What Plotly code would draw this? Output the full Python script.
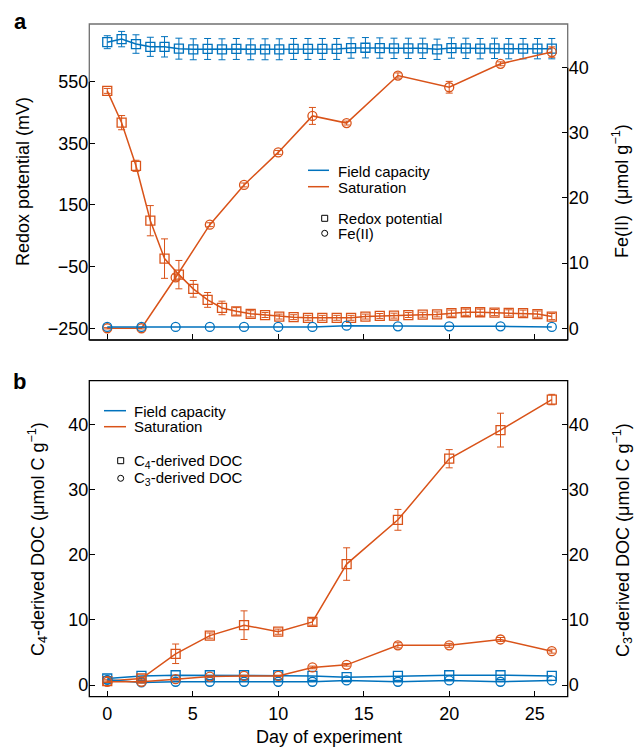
import plotly.graph_objects as go

# ---------------- data ----------------
redox_days = [0, 0.84, 1.68, 2.52, 3.35, 4.19, 5.03, 5.87, 6.71, 7.55, 8.39, 9.23,
              10.06, 10.9, 11.74, 12.58, 13.42, 14.26, 15.1, 15.94, 16.77, 17.61,
              18.45, 19.29, 20.13, 20.97, 21.81, 22.65, 23.48, 24.32, 25.16, 26.0]
redox_fc = [678, 688, 672, 663, 663, 657, 655, 656, 655, 656, 655, 655,
            655, 656, 656, 656, 656, 659, 660, 659, 658, 658, 658, 655,
            659, 658, 657, 658, 657, 657, 657, 657]
redox_fc_err = [21, 25, 30, 31, 33, 34, 34, 34, 34, 34, 34, 34,
                34, 34, 34, 34, 34, 33, 33, 33, 33, 33, 33, 33,
                33, 33, 33, 33, 33, 33, 33, 33]
redox_sat = [520, 417, 277, 99, -24, -76, -122, -158, -184, -195, -203, -207,
             -212, -214, -216, -216, -216, -216, -212, -210, -209, -207, -206, -205,
             -201, -198, -198, -199, -200, -201, -204, -212]
redox_sat_err = [8, 23, 18, 49, 64, 46, 27, 24, 22, 12, 10, 8,
                 8, 8, 8, 8, 8, 8, 8, 8, 8, 8, 8, 8,
                 10, 10, 10, 10, 10, 10, 10, 10]

fe_days = [0, 2, 4, 6, 8, 10, 12, 14, 17, 20, 23, 26]
fe_fc = [0.2, 0.2, 0.2, 0.2, 0.2, 0.2, 0.2, 0.4, 0.3, 0.3, 0.3, 0.2]
fe_sat = [0, 0, 7.8, 15.9, 22.0, 27.0, 32.6, 31.5, 38.8, 37.0, 40.6, 42.4]
fe_sat_err = [0.1, 0.1, 0.5, 0.3, 0.3, 0.3, 1.3, 0.3, 0.4, 0.9, 0.3, 0.8]

doc_days = [0, 2, 4, 6, 8, 10, 12, 14, 17, 20, 23, 26]
c4_fc = [1.0, 1.4, 1.5, 1.5, 1.5, 1.5, 1.4, 1.2, 1.4, 1.5, 1.5, 1.4]
c3_fc = [0.8, 0.4, 0.5, 0.5, 0.5, 0.5, 0.5, 0.7, 0.5, 0.7, 0.5, 0.7]
c4_sat = [0.6, 1.0, 4.8, 7.6, 9.2, 8.2, 9.7, 18.6, 25.4, 34.8, 39.2, 43.9]
c4_sat_err = [0.2, 0.2, 1.5, 0.4, 2.2, 0.4, 0.5, 2.5, 1.6, 1.4, 2.6, 0.8]
c3_sat = [0.5, 0.5, 0.9, 1.3, 1.4, 1.4, 2.7, 3.1, 6.1, 6.1, 7.0, 5.2]
c3_sat_err = [0.1, 0.1, 0.1, 0.1, 0.1, 0.1, 0.2, 0.2, 0.4, 0.3, 0.3, 0.3]

x_ticks = [0, 5, 10, 15, 20, 25]
redox_ticks = [-250, -50, 150, 350, 550]
redox_ticktext = ["\u2212250", "\u221250", "150", "350", "550"]
conc_ticks = [0, 10, 20, 30, 40]

BLUE = "#0072BD"
ORANGE = "#D95319"
FONT = "Liberation Sans, Arial, Helvetica, sans-serif"

W, H = 635, 748
def px(x):
    return x / W
def py(y):
    return 1 - y / H

fig = go.Figure()

def add(x, y, color, symbol, xa, ya, err=None, size=9):
    fig.add_trace(go.Scatter(
        x=x, y=y, xaxis=xa, yaxis=ya, mode="lines+markers",
        line=dict(color=color, width=1.5),
        marker=dict(symbol=symbol, size=size, color=color, line=dict(color=color, width=1.3)),
        error_y=(dict(type="data", array=err, color=color, thickness=1, width=3.5, visible=True)
                 if err is not None else None),
        showlegend=False, cliponaxis=False, hoverinfo="skip"))

# panel a
add(redox_days, redox_fc, BLUE, "square-open", "x", "y", redox_fc_err)
add(redox_days, redox_sat, ORANGE, "square-open", "x", "y", redox_sat_err)
add(fe_days, fe_sat, ORANGE, "circle-open", "x", "y2", fe_sat_err)
add(fe_days, fe_fc, BLUE, "circle-open", "x", "y2")
# panel b
add(doc_days, c4_fc, BLUE, "square-open", "x2", "y3")
add(doc_days, c3_fc, BLUE, "circle-open", "x2", "y4")
add(doc_days, c4_sat, ORANGE, "square-open", "x2", "y3", c4_sat_err)
add(doc_days, c3_sat, ORANGE, "circle-open", "x2", "y4", c3_sat_err)

xdom = [px(89.3), px(567.7)]
adom = [py(340), py(24)]
bdom = [py(696.7), py(380.7)]
xr = [-1.05, 26.93]

tickfont = dict(family=FONT, size=18, color="black")
common = dict(showgrid=False, zeroline=False, showline=False, ticks="inside",
              ticklen=6, tickwidth=1, tickcolor="black", tickfont=tickfont,
              automargin=False)

fig.update_layout(
    width=W, height=H, margin=dict(l=0, r=0, t=0, b=0),
    paper_bgcolor="white", plot_bgcolor="white", showlegend=False,
    font=dict(family=FONT, color="black"),
    xaxis=dict(domain=xdom, range=xr, anchor="y", tickvals=x_ticks,
               showticklabels=False, **common),
    yaxis=dict(domain=adom, range=[-288, 737], anchor="x", tickvals=redox_ticks,
               ticktext=redox_ticktext, **common),
    yaxis2=dict(range=[-1.8, 46.71], overlaying="y", side="right", anchor="x",
                tickvals=conc_ticks, **common),
    xaxis2=dict(domain=xdom, range=xr, anchor="y3", tickvals=x_ticks,
                ticklabelstandoff=4, **common),
    yaxis3=dict(domain=bdom, range=[-1.8, 46.8], anchor="x2", tickvals=conc_ticks, **common),
    yaxis4=dict(range=[-1.8, 46.8], overlaying="y3", side="right", anchor="x2",
                tickvals=conc_ticks, **common),
)

shapes = [
    # panel a frame (grey box) + black axis lines
    dict(type="rect", xref="x domain", yref="y domain", x0=0, x1=1, y0=0, y1=1,
         line=dict(color="#707070", width=1.3)),
    dict(type="line", xref="x domain", yref="y domain", x0=0, x1=1, y0=0, y1=0,
         line=dict(color="black", width=1.3)),
    dict(type="line", xref="x domain", yref="y", x0=0, x1=0, y0=-288, y1=550,
         line=dict(color="black", width=1.3)),
    dict(type="line", xref="x domain", yref="y2", x0=1, x1=1, y0=-1.8, y1=40,
         line=dict(color="black", width=1.3)),
    # panel b frame
    dict(type="rect", xref="x2 domain", yref="y3 domain", x0=0, x1=1, y0=0, y1=1,
         line=dict(color="black", width=1.3)),
]

# legends
def legline(x0, x1, y, color):
    shapes.append(dict(type="line", xref="paper", yref="paper", x0=px(x0), x1=px(x1),
                       y0=py(y), y1=py(y), line=dict(color=color, width=1.5)))
def legsq(cx, cy, s=6):
    shapes.append(dict(type="rect", xref="paper", yref="paper", x0=px(cx - s / 2), x1=px(cx + s / 2),
                       y0=py(cy + s / 2), y1=py(cy - s / 2), line=dict(color="black", width=1)))
def legci(cx, cy, s=6):
    shapes.append(dict(type="circle", xref="paper", yref="paper", x0=px(cx - s / 2), x1=px(cx + s / 2),
                       y0=py(cy + s / 2), y1=py(cy - s / 2), line=dict(color="black", width=1)))

legline(308, 329, 170.3, BLUE)
legline(308, 329, 186.7, ORANGE)
legsq(324.7, 218.3)
legci(324.7, 233.3)
legline(104, 126, 410.7, BLUE)
legline(104, 126, 426.7, ORANGE)
legsq(120.7, 460.7)
legci(120.7, 478.3)

fig.update_layout(shapes=shapes)

ann = []
def text(x, y, s, size=15, xanchor="left", angle=0):
    ann.append(dict(x=px(x), y=py(y), xref="paper", yref="paper", text=s, showarrow=False,
                    xanchor=xanchor, yanchor="middle", textangle=angle,
                    font=dict(family=FONT, size=size, color="black")))

text(335.7, 171.5, "Field capacity")
text(335.7, 187.3, "Saturation")
text(335.7, 219, "Redox potential")
text(335.7, 234, "Fe(II)")
text(131.5, 411, "Field capacity")
text(131.5, 427, "Saturation")
text(131.5, 461.5, "C<sub>4</sub>-derived DOC")
text(131.5, 478.5, "C<sub>3</sub>-derived DOC")

# panel labels
text(12, 21, "<b>a</b>", size=22)
text(11, 381, "<b>b</b>", size=22)

# axis titles
text(23, 182, "Redox potential (mV)", size=18, xanchor="center", angle=-90)
text(620, 191, "Fe(II)\u00a0 (\u03bcmol g<sup>\u22121</sup>)", size=18, xanchor="center", angle=-90)
text(37, 539, "C<sub>4</sub>-derived DOC (\u03bcmol C g<sup>\u22121</sup>)", size=18,
     xanchor="center", angle=-90)
text(622, 540, "C<sub>3</sub>-derived DOC (\u03bcmol C g<sup>\u22121</sup>)", size=18,
     xanchor="center", angle=-90)
text(328.5, 736.5, "Day of experiment", size=18, xanchor="center")

fig.update_layout(annotations=ann)

fig.write_html("out.html", config={"displayModeBar": False, "staticPlot": True},
               post_script="document.body.style.margin='0px';document.body.style.overflow='hidden';")
